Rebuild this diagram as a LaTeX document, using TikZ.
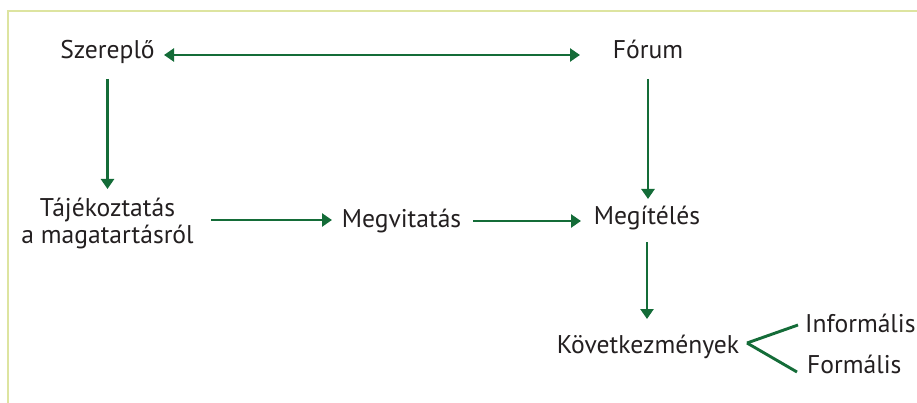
\documentclass[tikz,border=0pt]{standalone}
\usepackage{fontspec}
\setmainfont{PT Sans}
\usetikzlibrary{arrows.meta}
\definecolor{framegreen}{RGB}{221,228,160}
\definecolor{arrowgreen}{RGB}{20,108,56}
\definecolor{inkgray}{RGB}{35,31,32}
\begin{document}
\begin{tikzpicture}[x=1pt,y=-1pt,
  lbl/.style={inner sep=0pt,text=inkgray,font=\fontsize{25.6}{27}\selectfont},
  arr/.style={draw=arrowgreen,line width=2.9pt,-{Triangle[length=10pt,width=13pt]}},
  dbl/.style={arr,{Triangle[length=10pt,width=13pt]}-{Triangle[length=10pt,width=13pt]}},
  branch/.style={draw=arrowgreen,line width=2.9pt}]
  \useasboundingbox (0,0) rectangle (917,403);
  % frame lines along the top and the left
  \draw[framegreen,line width=2.2pt] (8,403) -- (8,11) -- (917,11);

  % labels
  \node[lbl,anchor=base] (sz) at (107.5,59) {Szereplő};
  \node[lbl,anchor=base] (fo) at (648,59) {Fórum};
  \node[lbl,anchor=center,align=center] (taj) at (107.5,223) {Tájékoztatás\\a magatartásról};
  \node[lbl,anchor=base] (mv) at (401.5,227) {Megvitatás};
  \node[lbl,anchor=base] (mi) at (647,225) {Megítélés};
  \node[lbl,anchor=base] (kov) at (648,353) {Következmények};
  \node[lbl,anchor=base west] (inf) at (805,332) {Informális};
  \node[lbl,anchor=base west] (form) at (807,373) {Formális};

  % connectors
  \draw[dbl] ([xshift=56.5pt,yshift=4pt]sz.base) -- ([xshift=-68pt,yshift=4pt]fo.base);
  \draw[arr] ([yshift=-20pt]sz.base) -- ([yshift=-130pt]sz.base);
  \draw[arr] ([yshift=-20pt]fo.base) -- ([yshift=-140pt]fo.base);
  \draw[arr] ([xshift=103.5pt]taj.center |- 0,220) -- ([xshift=-69.5pt]mv.base |- 0,220);
  \draw[arr] ([xshift=71.5pt,yshift=6pt]mv.base) -- ([xshift=-66pt,yshift=6pt]mv.base -| mi.base);
  \draw[arr] ([yshift=-17pt]mi.base) -- ([yshift=-94pt]mi.base);
  \coordinate (fork) at ([xshift=99pt,yshift=10pt]kov.base);
  \draw[branch] (fork) -- ([xshift=-7pt,yshift=7pt]inf.base west);
  \draw[branch] (fork) -- ([xshift=-10pt,yshift=1pt]form.base west);
\end{tikzpicture}
\end{document}
